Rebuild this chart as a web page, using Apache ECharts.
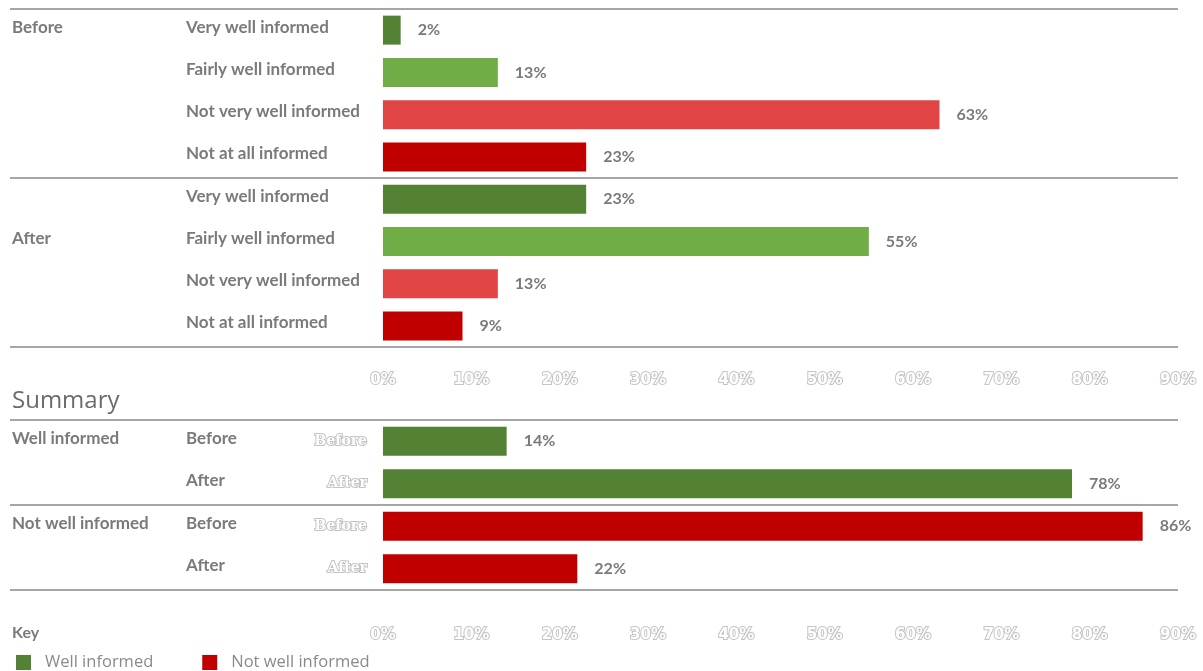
<!DOCTYPE html>
<html>
<head>
<meta charset="utf-8">
<script src="https://cdn.jsdelivr.net/npm/echarts@6/dist/echarts.min.js"></script>
<style>
html,body{margin:0;padding:0;background:#fff;}
#chart{width:1203px;height:671px;}
</style>
</head>
<body>
<div id="chart"></div>
<script>
// ---- data ----
const levels = ['Very well informed', 'Fairly well informed', 'Not very well informed', 'Not at all informed'];
const periods = ['Before', 'After'];
const beforeValues = [2, 13, 63, 23];
const afterValues = [23, 55, 13, 9];
const levelColors = ['#548235', '#70ad47', '#e04444', '#c00000'];

const summaryGroups = ['Well informed', 'Not well informed'];
const wellInformed = [14, 78];
const notWellInformed = [86, 22];
const summaryColors = ['#548235', '#c00000'];

const xTicks = [0, 10, 20, 30, 40, 50, 60, 70, 80, 90];
const keyTitle = 'Key';
const summaryTitle = 'Summary';

// ---- build ----
const topCats = [];
const topData = [];
periods.forEach((p, pi) => {
  const vals = pi === 0 ? beforeValues : afterValues;
  levels.forEach((l, li) => {
    topCats.push(l);
    topData.push({ value: vals[li], itemStyle: { color: levelColors[li] } });
  });
});
const topGroupRow = [0, 1];

const sumCats = [];
summaryGroups.forEach(() => periods.forEach(p => sumCats.push(p)));
const wellSeries = [wellInformed[0], wellInformed[1], '-', '-'];
const notWellSeries = ['-', '-', notWellInformed[0], notWellInformed[1]];

const GRAY = '#7a7a7a';
const LINE = '#a6a6a6';
const FONT = 'Lato';

const ghostLabel = {
  color: '#ffffff',
  textBorderColor: '#c4c4c4',
  textBorderWidth: 2,
  fontWeight: 'bold',
  fontFamily: 'DejaVu Sans',
  fontSize: 15
};
const catText = { color: GRAY, fontWeight: 'bold', fontSize: 17, fontFamily: FONT, padding: [0, 0, 6, 0] };
const catLabel = { rich: { t: catText } };
const wrap = s => s ? '{t|' + s + '}' : '';
const valLabel = { show: true, position: 'right', distance: 17, formatter: '{c}%', color: GRAY, fontWeight: 'bold', fontSize: 16, fontFamily: FONT };

function xAxisFor(grid, margin) {
  return {
    type: 'value', gridIndex: grid, min: xTicks[0], max: xTicks[xTicks.length - 1], interval: 10,
    axisLine: { show: false }, axisTick: { show: false }, splitLine: { show: false },
    axisLabel: Object.assign({ formatter: '{value}%', margin: margin }, ghostLabel)
  };
}
const every = n => (i) => i % n === 0;

const chart = echarts.init(document.getElementById('chart'), null, { renderer: 'canvas' });
chart.setOption({
  animation: false,
  backgroundColor: '#ffffff',
  textStyle: { fontFamily: FONT },
  title: [
    { text: summaryTitle, left: 12, top: 389, padding: 0, textStyle: { color: '#6b6b6b', fontSize: 24, fontWeight: 'normal', fontFamily: 'Open Sans' } },
    { text: keyTitle, left: 12, top: 625, padding: 0, textStyle: { color: GRAY, fontSize: 16, fontWeight: 'bold', fontFamily: FONT } }
  ],
  legend: {
    data: summaryGroups,
    left: 16, top: 654, padding: 0,
    icon: 'rect', itemWidth: 15, itemHeight: 15, itemGap: 49,
    textStyle: { color: '#8a8a8a', fontSize: 16.5, fontFamily: 'Open Sans', padding: [0, 0, 0, 9] },
    selectedMode: false
  },
  grid: [
    { left: 383, top: 9, width: 795, height: 338, containLabel: false, outerBoundsMode: 'none' },
    { left: 383, top: 420, width: 795, height: 170, containLabel: false, outerBoundsMode: 'none' }
  ],
  xAxis: [xAxisFor(0, 26), xAxisFor(1, 38)],
  yAxis: [
    {
      type: 'category', gridIndex: 0, position: 'left', data: topCats, inverse: true, z: 3,
      axisLine: { show: false },
      axisTick: { show: true, interval: every(levels.length), length: 373, lineStyle: { color: LINE, width: 2 } },
      splitLine: { show: true, interval: every(levels.length), lineStyle: { color: LINE, width: 2 } },
      axisLabel: Object.assign({ interval: 0, align: 'left', margin: 197, formatter: v => wrap(v) }, catLabel)
    },
    {
      type: 'category', gridIndex: 0, position: 'left', data: topCats, inverse: true, z: 3,
      axisLine: { show: false }, axisTick: { show: false }, splitLine: { show: false },
      axisLabel: Object.assign({
        interval: 0, align: 'left', margin: 371,
        formatter: (v, i) => { const g = Math.floor(i / levels.length); return (i % levels.length) === topGroupRow[g] ? wrap(periods[g]) : ''; }
      }, catLabel)
    },
    {
      type: 'category', gridIndex: 1, position: 'left', data: sumCats, inverse: true, z: 3,
      axisLine: { show: false },
      axisTick: { show: true, interval: every(periods.length), length: 373, lineStyle: { color: LINE, width: 2 } },
      splitLine: { show: true, interval: every(periods.length), lineStyle: { color: LINE, width: 2 } },
      axisLabel: Object.assign({ interval: 0, align: 'left', margin: 197, formatter: v => wrap(v) }, catLabel)
    },
    {
      type: 'category', gridIndex: 1, position: 'left', data: sumCats, inverse: true, z: 3,
      axisLine: { show: false }, axisTick: { show: false }, splitLine: { show: false },
      axisLabel: Object.assign({
        interval: 0, align: 'left', margin: 371,
        formatter: (v, i) => (i % periods.length) === 0 ? wrap(summaryGroups[Math.floor(i / periods.length)]) : ''
      }, catLabel)
    },
    {
      type: 'category', gridIndex: 1, position: 'left', data: sumCats, inverse: true, z: 1,
      axisLine: { show: false }, axisTick: { show: false }, splitLine: { show: false },
      axisLabel: Object.assign({ interval: 0, align: 'right', margin: 16 }, ghostLabel, { fontSize: 14, fontFamily: 'DejaVu Serif' })
    }
  ],
  series: [
    { type: 'bar', xAxisIndex: 0, yAxisIndex: 0, data: topData, barWidth: 29, label: valLabel },
    {
      name: summaryGroups[0], type: 'bar', xAxisIndex: 1, yAxisIndex: 2, stack: 's', data: wellSeries, barWidth: 29,
      itemStyle: { color: summaryColors[0] }, label: valLabel
    },
    {
      name: summaryGroups[1], type: 'bar', xAxisIndex: 1, yAxisIndex: 2, stack: 's', data: notWellSeries, barWidth: 29,
      itemStyle: { color: summaryColors[1] }, label: valLabel
    }
  ]
});
</script>
</body>
</html>
